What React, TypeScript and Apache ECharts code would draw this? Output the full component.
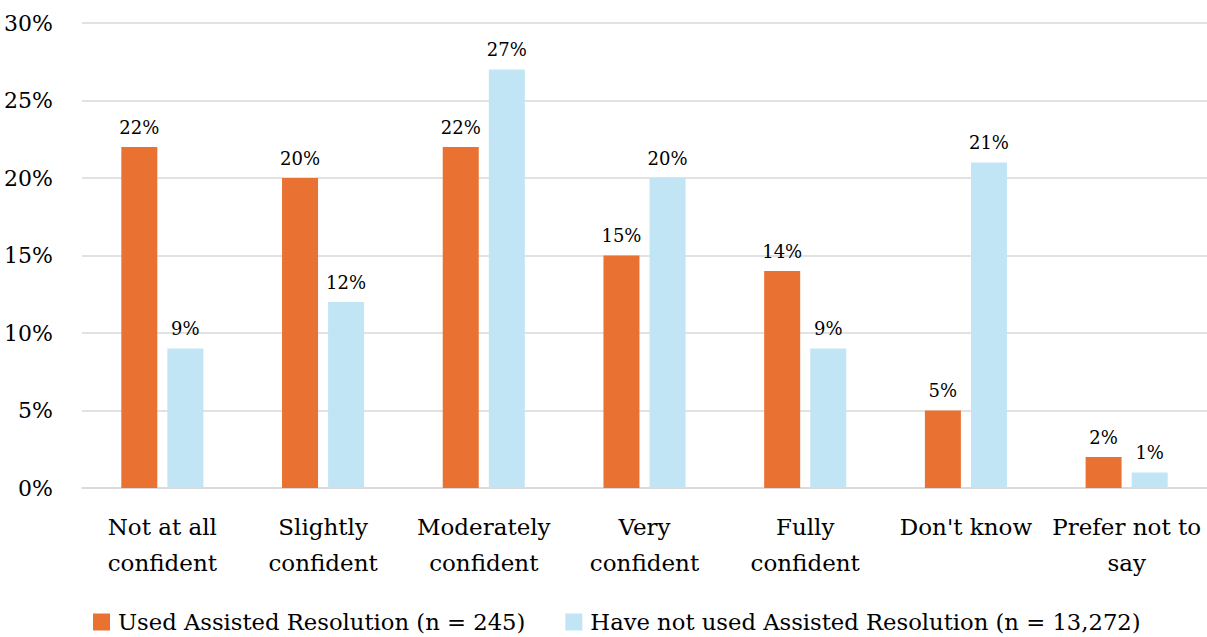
import React, { useEffect, useRef } from "react";
import * as echarts from "echarts";

const categories = [
  "Not at all\nconfident",
  "Slightly\nconfident",
  "Moderately\nconfident",
  "Very\nconfident",
  "Fully\nconfident",
  "Don't know",
  "Prefer not to\nsay",
];
const usedValues = [22, 20, 22, 15, 14, 5, 2];
const notUsedValues = [9, 12, 27, 20, 9, 21, 1];
const seriesNames = [
  "Used Assisted Resolution (n = 245)",
  "Have not used Assisted Resolution (n = 13,272)",
];
const yTicks = [0, 5, 10, 15, 20, 25, 30];

const FONT = "DejaVu Serif";

export default function App() {
  const ref = useRef<HTMLDivElement>(null);
  useEffect(() => {
    document.body.style.margin = "0";
    const chart = echarts.init(ref.current!, null, { renderer: "svg" });
    const label = {
      show: true,
      position: "top" as const,
      distance: 11,
      formatter: "{c}%",
      color: "#000",
      fontFamily: FONT,
      fontSize: 18,
    };
    chart.setOption({
      animation: false,
      textStyle: { fontFamily: FONT },
      grid: { left: 82, right: 0, top: 23, bottom: 149, containLabel: false },
      legend: {
        top: 608,
        left: 93,
        padding: 0,
        itemWidth: 17,
        itemHeight: 17,
        itemGap: 40,
        icon: "rect",
        textStyle: {
          fontFamily: FONT,
          fontSize: 22.7,
          lineHeight: 28,
          color: "#000",
          padding: [0, 0, 0, 3],
        },
        data: seriesNames,
      },
      xAxis: {
        type: "category",
        data: categories,
        axisTick: { show: false },
        axisLine: { lineStyle: { color: "#D9D9D9", width: 1.5 } },
        axisLabel: {
          fontFamily: FONT,
          fontSize: 23,
          color: "#000",
          lineHeight: 36,
          margin: 21,
          interval: 0,
        },
      },
      yAxis: {
        type: "value",
        min: yTicks[0],
        max: yTicks[yTicks.length - 1],
        interval: 5,
        axisLabel: {
          formatter: "{value}%",
          fontFamily: FONT,
          fontSize: 22,
          color: "#000",
          margin: 29,
        },
        axisLine: { show: false },
        axisTick: { show: false },
        splitLine: { lineStyle: { color: "#D9D9D9", width: 1.5 } },
      },
      series: [
        {
          name: seriesNames[0],
          type: "bar",
          data: usedValues,
          barWidth: 36,
          barGap: "28%",
          itemStyle: { color: "#E97132" },
          label,
        },
        {
          name: seriesNames[1],
          type: "bar",
          data: notUsedValues,
          barWidth: 36,
          barGap: "28%",
          itemStyle: { color: "#C1E5F5" },
          label,
        },
      ],
    });
    return () => chart.dispose();
  }, []);
  return (
    <div
      ref={ref}
      style={{ position: "fixed", left: 0, top: 0, width: 1207, height: 637, background: "#fff" }}
    />
  );
}
